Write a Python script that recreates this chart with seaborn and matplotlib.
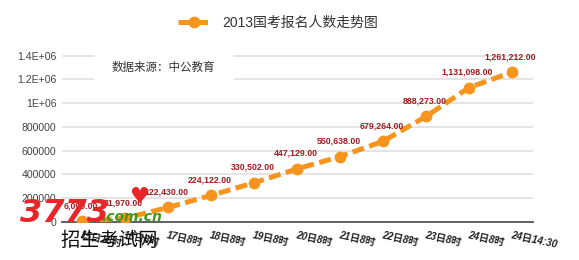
import matplotlib
matplotlib.use("Agg")
import matplotlib.pyplot as plt
import seaborn as sns
import pandas as pd

# ---- data ----
time_labels = ["15日18时", "16日8时", "17日8时", "18日8时", "19日8时", "20日8时",
               "21日8时", "22日8时", "23日8时", "24日8时", "24日14:30"]
applicants = [6099, 31970, 122430, 224122, 330502, 447129, 550638, 679264,
              888273, 1131098, 1261212]
ytick_values = [0, 200000, 400000, 600000, 800000, 1000000, 1200000, 1400000]
ytick_labels = ["0", "200000", "400000", "600000", "800000", "1E+06", "1.2E+06", "1.4E+06"]
series_name = "2013国考报名人数走势图"
source_note = "数据来源：中公教育"

sns.set_theme(style="white")
plt.rcParams['font.family'] = ['Liberation Sans', 'Noto Sans CJK SC', 'DejaVu Sans']

df = pd.DataFrame({"idx": range(len(applicants)), "value": applicants})

fig = plt.figure(figsize=(5.79, 2.60), dpi=100)
ax = fig.add_axes([62/579, 38/260, (533-62)/579, (222-43.8)/260])

orange = "#F7941D"
sns.lineplot(data=df, x="idx", y="value", ax=ax, color=orange, lw=3.6,
             linestyle=(0, (2.4, 1.1)), marker="o", markersize=8.5,
             markeredgewidth=0, label=series_name, zorder=3)

ax.set_xlim(-0.47, 10.49)
ax.set_ylim(0, 1.5e6)
ax.set_yticks(ytick_values)
ax.set_yticklabels(ytick_labels, fontsize=7.6, color="#444444")
ax.set_xticks(range(len(time_labels)))
ax.set_xticklabels(time_labels, fontsize=7.2, fontweight="bold", fontstyle="italic",
                   color="#222222", rotation=-12, ha="left", rotation_mode="anchor")
ax.tick_params(axis="both", length=0, pad=4)
ax.tick_params(axis="x", pad=6)
ax.set_xlabel("")
ax.set_ylabel("")
ax.yaxis.grid(True, color="#dcdcdc", lw=1.1)
ax.set_axisbelow(True)
for s in ["left", "right", "top"]:
    ax.spines[s].set_visible(False)
ax.spines["bottom"].set_color("#555555")
ax.spines["bottom"].set_linewidth(1.3)

# data labels
for i, v in enumerate(applicants):
    ax.annotate(f"{v:,.2f}", (i, v), xytext=(-1, 8), textcoords="offset points",
                ha="center", va="bottom", fontsize=6.3, fontweight="bold",
                color="#A3191E", zorder=5, annotation_clip=False)

# source note with white box hiding gridlines
fig.text(112/579, 1 - 68/260, source_note, fontsize=8.3,
         color="#333333", va="center", ha="left", zorder=2,
         bbox=dict(facecolor="white", edgecolor="none",
                   boxstyle="square,pad=1.6"))

# legend acting as title
leg = ax.legend(loc="center", bbox_to_anchor=(0.48, 1 - 23/260),
                bbox_transform=fig.transFigure, frameon=False, fontsize=10,
                handlelength=2.4, handletextpad=0.8)
for t in leg.get_texts():
    t.set_color("#333333")

# watermark
fig.text(20/579, 1 - 222/260, "3773", fontsize=23, fontweight="bold", fontstyle="italic",
         color="#E8262A", ha="left", va="baseline", family=["DejaVu Sans"], zorder=10)
fig.text(101/579, 1 - 221/260, ".com.cn", fontsize=10, fontweight="bold", fontstyle="italic",
         color="#3C9A1E", ha="left", va="baseline", family=["DejaVu Sans"], zorder=10)
fig.text(140/579, 1 - 197/260, "♥", fontsize=16, color="#E8262A", ha="center",
         va="center", family=["DejaVu Sans"], zorder=10)
fig.text(60/579, 1 - 240/260, "招生考试网", fontsize=14, color="#111111",
         ha="left", va="center", family=["Noto Sans CJK SC"], zorder=10)

fig.savefig("out.png", dpi=100)
